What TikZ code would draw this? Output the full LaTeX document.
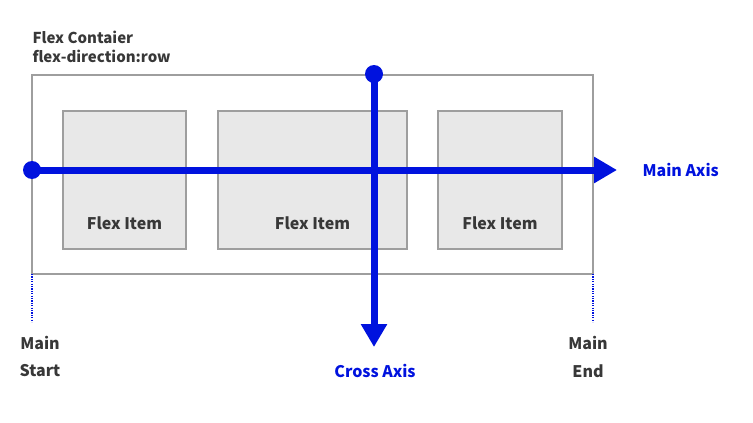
\documentclass[tikz,border=0pt]{standalone}
\usepackage{fontspec}
\setmainfont{Noto Sans CJK KR}
\usetikzlibrary{positioning,arrows.meta}
\definecolor{axisblue}{RGB}{0,18,222}
\definecolor{boxgray}{RGB}{158,158,158}
\definecolor{itemfill}{RGB}{232,232,232}
\definecolor{txtgray}{RGB}{56,56,56}
\tikzset{
  frame/.style={draw=boxgray,line width=1.5pt,anchor=north west,inner sep=0pt,outer sep=0pt},
  item/.style={frame,fill=itemfill,minimum height=138pt},
  lbl/.style={text=txtgray,font=\bfseries\fontsize{16}{19}\selectfont},
  axis/.style={draw=axisblue,line width=7pt,-{Triangle[length=23pt,width=25pt]}},
  dot/.style={circle,fill=axisblue,minimum size=18pt,inner sep=0pt},
  guide/.style={axisblue,line width=1.2pt,dash pattern=on 1.2pt off 1.2pt}
}
\begin{document}
\begin{tikzpicture}[x=1pt,y=-1pt]
		\useasboundingbox (0,0) rectangle (753,423);
		\node[lbl,anchor=west,font=\bfseries\fontsize{15}{18}\selectfont] (t1) at (29,37) {Flex Contaier};
		\node[lbl,anchor=west,font=\bfseries\fontsize{15}{18}\selectfont] (t2) at (29,56) {flex-direction:row};
		\node[frame,minimum width=561pt,minimum height=199pt] (box) at (32,75) {};
		
		\node[item,minimum width=123pt] (i1) at (63,111) {};
		\node[item,minimum width=189pt] (i2) at (218,111) {};
		\node[item,minimum width=124pt] (i3) at (438,111) {};
		\node[lbl,above=16pt of i1.south] {Flex Item};
		\node[lbl,above=16pt of i2.south] {Flex Item};
		\node[lbl,above=16pt of i3.south] {Flex Item};
		
		\draw[guide] (box.south west) -- ++(0,48);
		\draw[guide] (box.south east) -- ++(0,48);
		\node[lbl] (ms1) at (40,343) {Main};
		\node[lbl] (ms2) at (40,371) {Start};
		\node[lbl] (me1) at (588,343) {Main};
		\node[lbl] (me2) at (588,371) {End};
		
		\node[dot] (ma) at (32,170) {};
		\coordinate (mb) at (617,170);
		\draw[axis] (ma.center) -- (mb);
		\node[lbl,text=axisblue,anchor=west] (mt) at (639,170) {Main Axis};
		
		\node[dot] (ca) at (374,74) {};
		\coordinate (cb) at (374,347);
		\draw[axis] (ca.center) -- (cb);
		\node[lbl,text=axisblue] (ct) at (375,371) {Cross Axis};
\end{tikzpicture}
\end{document}
